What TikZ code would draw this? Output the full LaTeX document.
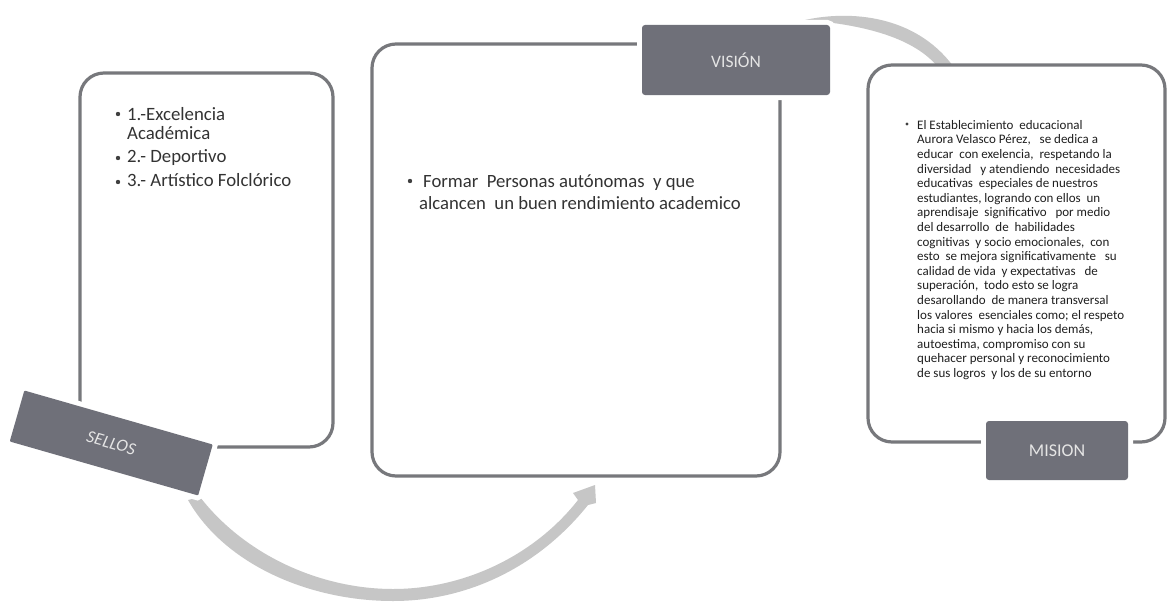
\documentclass[tikz,border=0pt]{standalone}
\usepackage{fontspec}
\setmainfont{Carlito}
\definecolor{boxline}{HTML}{77787C}
\definecolor{tag}{HTML}{6F7079}
\definecolor{arrowgrey}{HTML}{C6C6C6}
\tikzset{
  x=1pt,y=-1pt,
  panel/.style={draw=boxline,line width=3.2pt,rounded corners=24pt,fill=white,anchor=north west,outer sep=0pt,inner sep=0pt},
  tagbox/.style={fill=tag,rounded corners=3pt,text=white!90!black,font=\fontsize{17.5}{20}\selectfont,align=center,anchor=center,preaction={draw=white,line width=10pt}},
  body/.style={anchor=north west,align=left,text=black!80,inner sep=0pt},
  sweep/.style={fill=arrowgrey,draw=none}
}
\begin{document}
\begin{tikzpicture}
\useasboundingbox (0,0) rectangle (1167,602);
\fill[white] (0,0) rectangle (1167,602);
% grey sweep arrows
\fill[sweep] (188,500) .. controls (225,565) and (310,601) .. (393,601) .. controls (470,601) and (540,565) .. (588,505) -- (596,503) -- (595,485) -- (573,493) -- (578,500) .. controls (535,555) and (465,589) .. (393,589) .. controls (320,589) and (245,555) .. (200,497) -- cycle;
\fill[sweep] (805,20) .. controls (850,10) and (915,15) .. (953,66) -- (937,66) .. controls (915,40) and (870,25) .. (805,20) -- cycle;
% panels
\node[panel,minimum width=253pt,minimum height=374pt] (sellospanel) at (80,73) {};
\node[panel,minimum width=408pt,minimum height=432pt] (visionpanel) at (372,44) {};
\node[panel,minimum width=297pt,minimum height=377pt] (misionpanel) at (868,65) {};
% tags
\node[tagbox,minimum width=188pt,minimum height=70pt] (vision) at (736,60) {VISIÓN};
\node[tagbox,minimum width=142pt,minimum height=59pt,font=\fontsize{18}{20}\selectfont] (mision) at (1057,450.5) {MISION};
\node[tagbox,rounded corners=1pt,minimum width=196pt,minimum height=53pt,rotate=-16] (sellos) at (111.25,443) {\itshape SELLOS};
% text
\node[body,font=\fontsize{18.8}{19}\selectfont] (t1) at (127,107) {1.-Excelencia\\[-0.2pt]Académica\\[4.8pt]2.- Deportivo\\[4.8pt]3.- Artístico Folclórico};
\foreach \yy in {114,158,182}{\fill[black!75] (118,\yy) circle (2.2pt);}
\node[body,font=\fontsize{18.7}{22}\selectfont] (t2) at (419,175) {\hspace{4pt}Formar~ Personas autónomas~ y que\\alcancen~ un buen rendimiento academico};
\fill[black!75] (410,181) circle (2.2pt);
\node[body,font=\fontsize{13}{14.6}\selectfont,text=black!88] (t3) at (917,120) {El Establecimiento~ educacional\\Aurora Velasco Pérez,~~ se dedica a\\educar~ con exelencia,~ respetando la\\diversidad~~ y atendiendo~ necesidades\\educativas~ especiales de nuestros\\estudiantes, logrando con ellos~ un\\aprendisaje~ significativo~~ por medio\\del desarrollo~ de~ habilidades\\cognitivas~ y socio emocionales,~ con\\esto~ se mejora significativamente~~ su\\calidad de vida~ y expectativas~~ de\\superación,~ todo esto se logra\\desarollando~ de manera transversal\\los valores~ esenciales como; el respeto\\hacia si mismo y hacia los demás,\\autoestima, compromiso con su\\quehacer personal y reconocimiento\\de sus logros~ y los de su entorno};
\fill[black!75] (907,124) circle (1.6pt);
\end{tikzpicture}
\end{document}
